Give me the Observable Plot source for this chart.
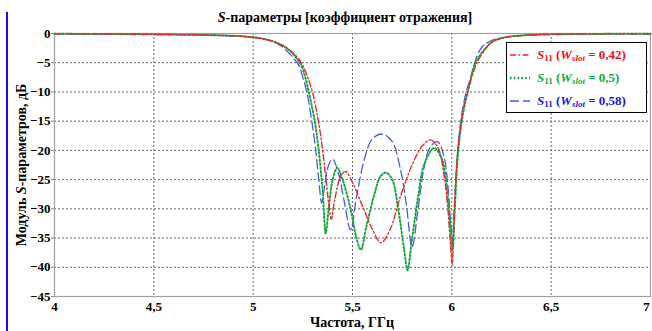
<!DOCTYPE html>
<html><head><meta charset="utf-8">
<script src="https://cdn.jsdelivr.net/npm/d3@7"></script>
<script src="https://cdn.jsdelivr.net/npm/@observablehq/plot@0.6"></script>
<style>
body{margin:0;background:#fff;font-family:"Liberation Serif","Times New Roman",serif;}
#wrap{position:relative;width:652px;height:331px;overflow:hidden;}
.t{position:absolute;font-weight:bold;white-space:nowrap;color:#000;}
#bar{position:absolute;left:6px;top:12px;width:2px;height:320px;background:#1010ff;}
#legend{position:absolute;left:506px;top:42px;width:139px;height:69px;border:1.5px solid #000;background:#fff;}
.row{position:absolute;left:0;height:20px;display:flex;align-items:center;font-weight:bold;font-size:13px;}
.row svg{margin-left:2px;margin-right:6px;}
sub{font-size:9px;vertical-align:-2px;font-style:normal;}
sub.i{font-style:italic;}
</style></head>
<body><div id="wrap">
<div id="bar"></div>
<div id="chart"></div>
<div class="t" style="left:345px;top:18px;transform:translate(-50%,-50%);font-size:14px;"><i>S</i>-параметры [коэффициент отражения]</div>
<div class="t" style="left:352px;top:323px;transform:translate(-50%,-50%);font-size:14px;">Частота, ГГц</div>
<div class="t" style="left:22px;top:165px;transform:translate(-50%,-50%) rotate(-90deg);font-size:14px;">Модуль <i>S</i>-параметров, дБ</div>
<div id="legend"></div>
</div>
<script>
const xTicks = [4, 4.5, 5, 5.5, 6, 6.5, 7];
const yTicks = [0, -5, -10, -15, -20, -25, -30, -35, -40, -45];
const seriesNames = ["0,42", "0,5", "0,58"];
const seriesColors = ["#e8282a", "#17a83c", "#4a58e8"];
const textColors = ["#ee1111", "#11a84a", "#1a1ad8"];

const redF  = [4.0,4.5,4.8,4.95,5.05,5.12,5.18,5.22,5.25,5.28,5.30,5.32,5.34,5.36,5.38,5.393,5.41,5.44,5.465,5.50,5.55,5.60,5.643,5.69,5.74,5.80,5.85,5.892,5.93,5.96,5.98,5.995,6.002,6.01,6.02,6.03,6.048,6.06,6.08,6.10,6.127,6.175,6.21,6.28,6.4,6.6,7.0];
const redDb = [-0.05,-0.15,-0.3,-0.5,-0.9,-1.6,-2.7,-4.0,-5.5,-8.0,-10.2,-13.5,-17.5,-23,-29,-31.8,-28.5,-24.5,-23.6,-25.5,-29.5,-33.5,-35.8,-33.5,-28,-22.5,-19.3,-18.2,-19.5,-24,-30,-37,-39.5,-33,-25,-20,-15,-12.5,-10,-7.5,-5,-2.4,-1.3,-0.6,-0.25,-0.1,-0.05];

const greenF  = [4.0,4.5,4.8,4.95,5.05,5.12,5.18,5.22,5.24,5.26,5.28,5.31,5.33,5.35,5.365,5.38,5.40,5.423,5.45,5.49,5.52,5.542,5.57,5.61,5.64,5.668,5.70,5.73,5.76,5.777,5.80,5.83,5.86,5.911,5.95,5.97,5.99,6.003,6.015,6.03,6.05,6.08,6.12,6.17,6.21,6.28,6.4,6.6,7.0];
const greenDb = [-0.05,-0.15,-0.3,-0.5,-0.9,-1.6,-2.8,-4.3,-5.3,-7.2,-10,-15,-20,-27,-34.2,-30,-25,-23,-25,-30,-35,-37,-33,-27.5,-24.5,-23.8,-25,-30,-37,-40.5,-35,-28,-22.5,-19.6,-21.5,-25,-32,-37,-30,-21,-15,-10,-5,-2.5,-1.3,-0.6,-0.25,-0.1,-0.05];

const blueF  = [4.0,4.5,4.8,4.95,5.05,5.12,5.17,5.21,5.23,5.25,5.27,5.295,5.315,5.33,5.345,5.36,5.38,5.40,5.43,5.46,5.49,5.52,5.56,5.60,5.65,5.70,5.74,5.77,5.80,5.83,5.86,5.89,5.928,5.96,5.98,5.995,6.003,6.012,6.025,6.045,6.072,6.095,6.115,6.15,6.2,6.28,6.4,6.6,7.0];
const blueDb = [-0.05,-0.15,-0.3,-0.5,-0.9,-1.7,-3.0,-4.5,-5.5,-7.5,-10,-15,-20,-25,-29.0,-26,-22.5,-21.5,-24,-29,-33.6,-28,-21.5,-18,-17.2,-18.5,-23,-29,-36.5,-30,-23,-19.5,-18.5,-21,-26,-33,-35.5,-30,-22,-15,-10,-7.5,-5,-2.4,-1.2,-0.6,-0.25,-0.1,-0.05];

const toRows = (F, D) => F.map((f, i) => ({f, db: D[i]}));
const red = toRows(redF, redDb), green = toRows(greenF, greenDb), blue = toRows(blueF, blueDb);
const fmtX = d => String(d).replace(".", ",");
const fmtY = d => d === 0 ? "0" : "\u2212" + Math.abs(d);

const chart = Plot.plot({
  width: 652, height: 331,
  marginLeft: 54, marginRight: 2, marginTop: 33, marginBottom: 35,
  x: {domain: [4, 7]},
  y: {domain: [-45, 0]},
  style: {fontFamily: "Liberation Serif", fontWeight: "bold", fontSize: "13px", color: "#000", background: "transparent", overflow: "visible"},
  marks: [
    Plot.gridX(xTicks.slice(1, -1), {stroke: "#666", strokeOpacity: 1, strokeDasharray: "2,2"}),
    Plot.gridY(yTicks.slice(1, -1), {stroke: "#666", strokeOpacity: 1, strokeDasharray: "2,2"}),
    Plot.frame({stroke: "#a0a0a0", strokeWidth: 1.2}),
    Plot.axisX(xTicks.slice(0, -1), {tickFormat: fmtX, tickSize: 0, tickPadding: 5, label: null, fontSize: 13}),
    Plot.axisX(xTicks.slice(-1), {tickFormat: fmtX, tickSize: 0, tickPadding: 5, label: null, fontSize: 13, dx: -4}),
    Plot.axisY(yTicks, {tickFormat: fmtY, tickSize: 3, tickPadding: 1, label: null, stroke: "#888", fontSize: 13}),
    Plot.line(blue, {x: "f", y: "db", stroke: seriesColors[2], strokeWidth: 1.3, strokeDasharray: "9,4", curve: "catmull-rom"}),
    Plot.line(green, {x: "f", y: "db", stroke: seriesColors[1], strokeWidth: 2, strokeDasharray: "1.6,2.2", curve: "catmull-rom"}),
    Plot.line(red, {x: "f", y: "db", stroke: seriesColors[0], strokeWidth: 1.4, strokeDasharray: "6,2.5,1.5,2.5", curve: "catmull-rom"})
  ]
});
document.getElementById("chart").appendChild(chart);

const dashes = ["6,2.5,1.5,2.5", "1.6,2.2", "9,4"];
const widths = [1.4, 2, 1.3];
const legend = document.getElementById("legend");
seriesNames.forEach((n, i) => {
  const row = document.createElement("div");
  row.className = "row";
  row.style.top = (2 + i * 23) + "px";
  row.style.color = textColors[i];
  row.innerHTML = `<svg width="22" height="10"><line x1="1" y1="5" x2="21" y2="5" stroke="${seriesColors[i]}" stroke-width="${widths[i] + 0.3}" stroke-dasharray="${dashes[i]}"/></svg><span><i>S</i><sub>11</sub> (<i>W</i><sub class="i">slot</sub> = ${n})</span>`;
  legend.appendChild(row);
});
</script>
</body></html>
